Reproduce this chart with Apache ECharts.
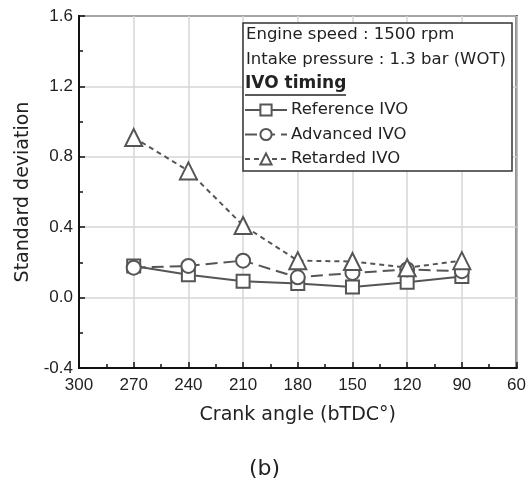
<!DOCTYPE html>
<html>
<head>
<meta charset="utf-8">
<script src="https://cdn.jsdelivr.net/npm/echarts@6/dist/echarts.min.js"></script>
<style>
  html, body { margin: 0; padding: 0; background: #fff; }
  #chart { width: 529px; height: 491px; }
</style>
</head>
<body>
<div id="chart"></div>
<script>
// Crank angle positions (bTDC, degrees)
const crankAngles = [270, 240, 210, 180, 150, 120, 90];

// Standard deviation per IVO timing
const referenceIVO = [0.18, 0.13, 0.093, 0.08, 0.06, 0.087, 0.12];
const advancedIVO  = [0.17, 0.18, 0.21, 0.115, 0.14, 0.16, 0.15];
const retardedIVO  = [0.91, 0.72, 0.41, 0.21, 0.205, 0.17, 0.21];

const seriesNames = ['Reference IVO', 'Advanced IVO', 'Retarded IVO'];
const infoLines = ['Engine speed : 1500 rpm', 'Intake pressure : 1.3 bar (WOT)'];
const legendHeader = 'IVO timing';

const INK = '#555';
const tickFont = 'Liberation Sans, Arial, sans-serif';
const textFont = 'DejaVu Sans, Verdana, sans-serif';

function pairs(vals) {
  return crankAngles.map((a, i) => [a, vals[i]]);
}

function lineSeries(name, vals, symbol, dash) {
  return {
    name: name,
    type: 'line',
    data: pairs(vals),
    symbol: symbol,
    symbolSize: symbol === 'triangle' ? 17 : (symbol === 'circle' ? 14 : 13),
    showAllSymbol: true,
    lineStyle: { color: INK, width: 2, type: dash },
    itemStyle: { color: '#fff', borderColor: INK, borderWidth: 2 },
    emphasis: { disabled: true },
    z: 3
  };
}

const chart = echarts.init(document.getElementById('chart'), null, { renderer: 'canvas' });

chart.setOption({
  animation: false,
  backgroundColor: '#fff',
  grid: {
    left: 79, right: 11, top: 16, bottom: 123,
    show: true, borderColor: '#111', borderWidth: 2, backgroundColor: 'transparent'
  },
  xAxis: {
    type: 'value',
    inverse: true,
    min: 60, max: 300, interval: 30,
    axisLine: { show: true, onZero: false, lineStyle: { color: '#111', width: 2 } },
    axisTick: { show: true, inside: true, length: 6, lineStyle: { color: '#111', width: 1.5 } },
    minorTick: { show: true, splitNumber: 2, length: 4, lineStyle: { color: '#111', width: 1.5 } },
    splitLine: { show: true, lineStyle: { color: '#d6d6d6', width: 1.5 } },
    axisLabel: { color: '#222', fontFamily: tickFont, fontSize: 17, margin: 9 },
    name: 'Crank angle (bTDC°)',
    nameLocation: 'middle',
    nameGap: 38,
    nameTextStyle: { color: '#222', fontFamily: textFont, fontSize: 19 }
  },
  yAxis: {
    type: 'value',
    min: -0.4, max: 1.6, interval: 0.4,
    axisLine: { show: true, onZero: false, lineStyle: { color: '#111', width: 2 } },
    axisTick: { show: true, inside: true, length: 6, lineStyle: { color: '#111', width: 1.5 } },
    minorTick: { show: true, splitNumber: 2, length: 4, lineStyle: { color: '#111', width: 1.5 } },
    splitLine: { show: true, lineStyle: { color: '#d6d6d6', width: 1.5 } },
    axisLabel: {
      color: '#222', fontFamily: tickFont, fontSize: 17, margin: 6,
      formatter: v => v.toFixed(1)
    },
    name: 'Standard deviation',
    nameLocation: 'middle',
    nameGap: 45,
    nameTextStyle: { color: '#222', fontFamily: textFont, fontSize: 19 }
  },
  legend: {
    data: seriesNames,
    orient: 'vertical',
    left: 244,
    top: 100,
    padding: 0,
    itemGap: 4.5,
    itemWidth: 42,
    itemHeight: 14,
    selectedMode: false,
    z: 20,
    textStyle: { color: '#222', fontFamily: textFont, fontSize: 16.5, lineHeight: 20, padding: [0, 0, 0, -1] }
  },
  graphic: [
    {
      type: 'rect',
      shape: { x: 243, y: 23, width: 269, height: 148 },
      style: { fill: '#fff', stroke: '#333', lineWidth: 1.5 },
      z: 10
    },
    {
      type: 'text',
      left: 246, top: 26.5,
      style: { text: infoLines[0], fill: '#222', font: '16.5px ' + textFont },
      z: 11
    },
    {
      type: 'text',
      left: 246, top: 51,
      style: { text: infoLines[1], fill: '#222', font: '16.5px ' + textFont },
      z: 11
    },
    {
      type: 'text',
      left: 245, top: 75,
      style: { text: legendHeader, fill: '#222', font: 'bold 17px ' + textFont },
      z: 11
    },
    {
      type: 'line',
      shape: { x1: 245, y1: 95, x2: 346, y2: 95 },
      style: { stroke: '#222', lineWidth: 1.5 },
      z: 11
    },
    {
      type: 'text',
      left: 'center', top: 458,
      style: { text: '(b)', fill: '#222', font: '22px ' + textFont },
      z: 11
    }
  ],
  series: [
    lineSeries(seriesNames[0], referenceIVO, 'rect', 'solid'),
    lineSeries(seriesNames[1], advancedIVO, 'circle', [12, 6]),
    lineSeries(seriesNames[2], retardedIVO, 'triangle', [5, 4])
  ]
});
</script>
</body>
</html>
